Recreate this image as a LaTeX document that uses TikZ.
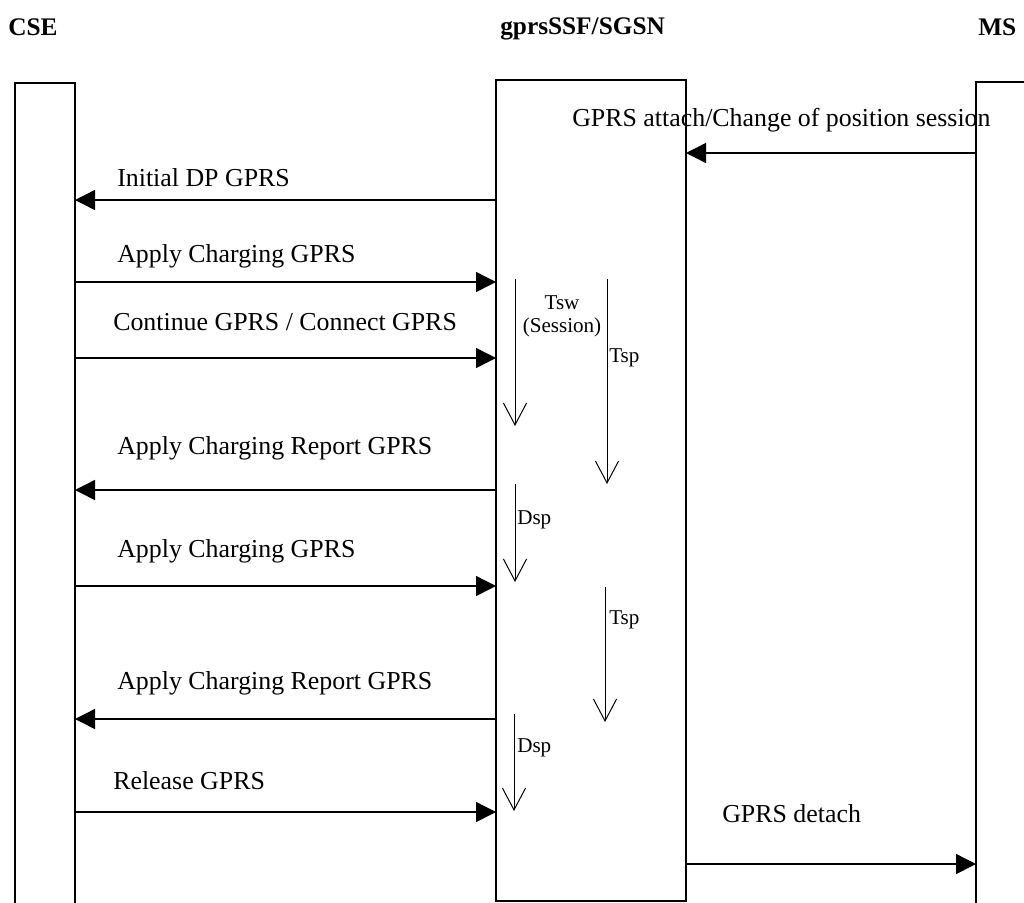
\documentclass[tikz,border=0pt]{standalone}
\usepackage{fontspec}
\setmainfont{Liberation Serif}
\usetikzlibrary{arrows.meta}
\begin{document}
\begin{tikzpicture}[x=0.025cm,y=-0.025cm,
  box/.style={line width=1.3pt},
  msg/.style={line width=1pt,-{Triangle[length=0.5cm,width=0.5cm]}},
  timer/.style={line width=0.7pt,-{Straight Barb[length=0.55cm,width=0.58cm]}},
  lbl/.style={font=\fontsize{18.4}{20}\selectfont,anchor=base west,inner sep=0pt},
  hdr/.style={font=\fontsize{18}{20}\selectfont\bfseries,anchor=base west,inner sep=0pt},
  slbl/.style={font=\fontsize{15}{16}\selectfont,inner sep=0pt}]
\useasboundingbox (0,0) rectangle (1024,902);
% headers
\node[hdr] (hcse) at (8,35) {CSE};
\node[hdr] (hgprs) at (500,34) {gprsSSF/SGSN};
\node[hdr] (hms) at (978,35) {MS};
% lifeline boxes
\draw[box] (15,910) -- (15,83) -- (75,83) -- (75,910);
\draw[box] (496,80) rectangle (686,901);
\draw[box] (976,910) -- (976,82) -- (1030,82);
% named points on lifelines
\coordinate (ms1) at (976,153);  \coordinate (g1) at (686,153);
\coordinate (g2) at (496,200);   \coordinate (c2) at (75,200);
\coordinate (c3) at (75,282);    \coordinate (g3) at (496,282);
\coordinate (c4) at (75,358);    \coordinate (g4) at (496,358);
\coordinate (g5) at (496,490);   \coordinate (c5) at (75,490);
\coordinate (c6) at (75,586);    \coordinate (g6) at (496,586);
\coordinate (g7) at (496,719);   \coordinate (c7) at (75,719);
\coordinate (c8) at (75,812);    \coordinate (g8) at (496,812);
\coordinate (g9) at (686,864);   \coordinate (ms9) at (976,864);
% messages
\draw[msg] (ms1) -- (g1);
\node[lbl] (l1) at (572,126) {GPRS attach/Change of position session};
\draw[msg] (g2) -- (c2);
\node[lbl] (l2) at (117,186) {Initial DP GPRS};
\draw[msg] (c3) -- (g3);
\node[lbl] (l3) at (117,262) {Apply Charging GPRS};
\draw[msg] (c4) -- (g4);
\node[lbl] (l4) at (113,330) {Continue GPRS / Connect GPRS};
\draw[msg] (g5) -- (c5);
\node[lbl] (l5) at (117,454) {Apply Charging Report GPRS};
\draw[msg] (c6) -- (g6);
\node[lbl] (l6) at (117,557) {Apply Charging GPRS};
\draw[msg] (g7) -- (c7);
\node[lbl] (l7) at (117,689) {Apply Charging Report GPRS};
\draw[msg] (c8) -- (g8);
\node[lbl] (l8) at (113,789) {Release GPRS};
\draw[msg] (g9) -- (ms9);
\node[lbl] (l9) at (722,822) {GPRS detach};
% timers
\coordinate (tswa) at (515,279); \coordinate (tswb) at (515,426);
\draw[timer] (tswa) -- (tswb);
\node[slbl] (tswl) at (562,303) {Tsw};
\node[slbl] (tswl2) at (562,327) {(Session)};
\coordinate (tsp1a) at (607,279); \coordinate (tsp1b) at (607,484);
\draw[timer] (tsp1a) -- (tsp1b);
\node[slbl,anchor=west] (tsp1l) at (609,358) {Tsp};
\coordinate (dsp1a) at (515,484); \coordinate (dsp1b) at (515,582);
\draw[timer] (dsp1a) -- (dsp1b);
\node[slbl,anchor=west] (dsp1l) at (517,520) {Dsp};
\coordinate (tsp2a) at (605,587); \coordinate (tsp2b) at (605,722);
\draw[timer] (tsp2a) -- (tsp2b);
\node[slbl,anchor=west] (tsp2l) at (609,620) {Tsp};
\coordinate (dsp2a) at (514,714); \coordinate (dsp2b) at (514,811);
\draw[timer] (dsp2a) -- (dsp2b);
\node[slbl,anchor=west] (dsp2l) at (517,748) {Dsp};
\end{tikzpicture}
\end{document}
